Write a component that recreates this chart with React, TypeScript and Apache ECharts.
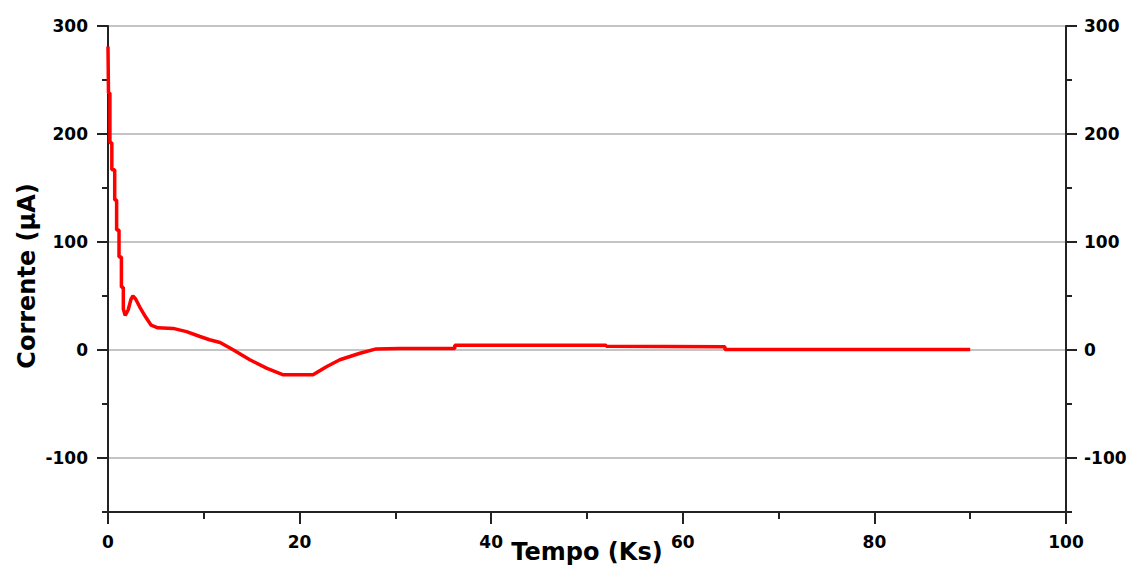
import React, { useEffect, useRef } from "react";
import * as echarts from "echarts";

const timeKs: number[] = [
  0, 0.05, 0.2, 0.2, 0.4, 0.4, 0.7, 0.7, 0.9, 0.9, 1.15, 1.15, 1.4, 1.4, 1.6, 1.6,
  1.8, 2.1, 2.4, 2.6, 2.9, 3.3, 3.9, 4.5, 5.2, 6.8, 8.2, 9.6, 10.6, 11.7, 13.1,
  14.8, 16.6, 18.3, 21.4, 22.8, 24.2, 26.3, 28, 30.5, 36.2, 36.2, 52, 52, 64.4,
  64.4, 90,
];
const currentUA: number[] = [
  281, 238, 238, 192, 192, 167, 167, 139, 139, 111, 111, 86, 86, 58, 58, 38,
  32, 37, 47, 50, 47, 40, 31, 23, 20.5, 20, 17, 12.5, 9.5, 7, 0,
  -9, -17, -23, -23, -15.5, -9, -3, 1, 1.5, 1.5, 4.5, 4.5, 3.5, 3,
  0.5, 0.5,
];

const xTicks = { min: 0, max: 100, interval: 20 };
const yRange = { min: -150, max: 300 };
const xTitle = "Tempo (Ks)";
const yTitle = "Corrente (μA)";

const FONT = "DejaVu Sans";

export default function App() {
  const ref = useRef<HTMLDivElement>(null);
  useEffect(() => {
    if (!ref.current) return;
    const chart = echarts.init(ref.current, undefined, { renderer: "svg" });
    const labelStyle = {
      fontFamily: FONT,
      fontWeight: "bold" as const,
      fontSize: 17,
      color: "#000",
    };
    const axisLine = { show: true, onZero: false, lineStyle: { color: "#222", width: 2 } };
    const majorY = (position: "left" | "right", margin: number) => ({
      type: "value" as const,
      position,
      min: yRange.min,
      max: yRange.max,
      splitNumber: 5,
      axisLine,
      axisTick: { show: true, inside: false, length: 11, lineStyle: { color: "#222", width: 2 } },
      minorTick: { show: false },
      splitLine: position === "left" ? { show: true, lineStyle: { color: "#c4c4c4", width: 2 } } : { show: false },
      axisLabel: {
        ...labelStyle,
        margin,
        showMinLabel: false,
        formatter: (v: number) => (v % 100 === 0 ? String(v) : ""),
      },
    });
    const minorY = (position: "left" | "right") => ({
      type: "value" as const,
      position,
      min: yRange.min,
      max: yRange.max,
      interval: 50,
      axisLine: { show: false },
      axisTick: { show: true, inside: false, length: 6, lineStyle: { color: "#222", width: 2 } },
      splitLine: { show: false },
      axisLabel: { show: false },
    });
    chart.setOption({
      animation: false,
      backgroundColor: "#fff",
      grid: {
        left: 108,
        right: 65,
        top: 26,
        bottom: 57,
        show: true,
        borderColor: "#222",
        borderWidth: 2,
        containLabel: false,
        outerBoundsMode: "none",
      },
      xAxis: {
        type: "value",
        min: xTicks.min,
        max: xTicks.max,
        interval: xTicks.interval,
        axisLine,
        axisTick: { show: true, inside: false, length: 12, lineStyle: { color: "#222", width: 2 } },
        minorTick: { show: true, splitNumber: 2, length: 7, lineStyle: { color: "#222", width: 2 } },
        splitLine: { show: false },
        axisLabel: { ...labelStyle, margin: 21 },
        name: xTitle,
        nameLocation: "middle",
        nameGap: 28,
        nameMoveOverlap: false,
        nameTextStyle: { fontFamily: FONT, fontWeight: "bold", fontSize: 24, color: "#000" },
      },
      yAxis: [majorY("left", 20), majorY("right", 18), minorY("left"), minorY("right")],
      graphic: [
        {
          type: "text",
          x: 27,
          y: 276,
          rotation: Math.PI / 2,
          style: {
            text: yTitle,
            fontFamily: FONT,
            fontWeight: "bold",
            fontSize: 24,
            fill: "#000",
            align: "center",
            verticalAlign: "middle",
          },
        },
      ],
      series: [
        {
          type: "line",
          yAxisIndex: 0,
          data: timeKs.map((t, i) => [t, currentUA[i]]),
          showSymbol: false,
          lineStyle: { color: "#ff0000", width: 3.5 },
          itemStyle: { color: "#ff0000" },
          z: 5,
        },
      ],
    });
    return () => chart.dispose();
  }, []);
  return (
    <div
      ref={ref}
      style={{ position: "fixed", left: 0, top: 0, width: 1131, height: 569, background: "#fff" }}
    />
  );
}
